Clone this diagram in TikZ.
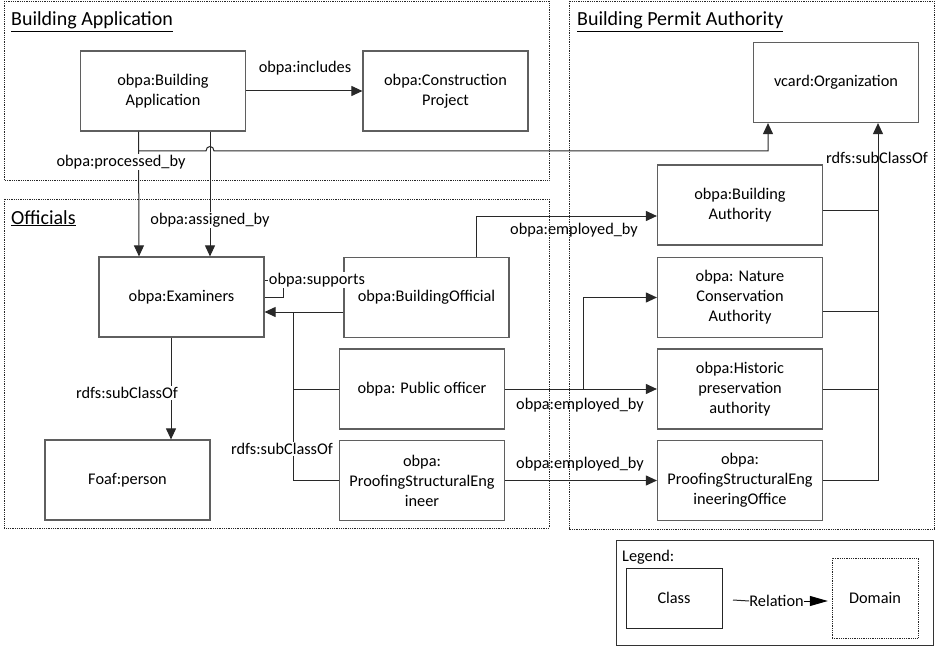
\documentclass[tikz,border=0pt]{standalone}
\usepackage{fontspec}
\setmainfont{Carlito}
\usetikzlibrary{arrows.meta}
\definecolor{boxline}{RGB}{95,95,95}
\definecolor{conn}{RGB}{40,40,40}
\tikzset{
  cls/.style={draw=boxline, line width=1.2pt, minimum width=165pt, minimum height=80pt,
    align=center, inner sep=0pt, font=\fontsize{16.3}{20}\selectfont},
  dom/.style={draw=black!85, line width=0.8pt, densely dotted},
  rel/.style={draw=conn, line width=1pt, -{Triangle[length=11pt,width=10pt]}},
  plain/.style={draw=conn, line width=1pt},
  lbl/.style={font=\fontsize{16.3}{20}\selectfont, inner sep=1pt},
  lblw/.style={lbl, fill=white},
  dtitle/.style={anchor=base west, font=\fontsize{20}{24}\selectfont, inner sep=0pt}
}
\begin{document}
\begin{tikzpicture}[x=1pt,y=-1pt]
\useasboundingbox (0,0) rectangle (939,647);
\fill[white] (0,0) rectangle (939,647);

% domains
\draw[dom] (4,1) rectangle (549,180);
\draw[dom] (4,199) rectangle (549,528);
\draw[dom] (569,1) rectangle (934,529);
\node[dtitle] (t1) at (11,26) {\underline{Building Application}};
\node[dtitle] (t2) at (11,224) {\underline{Officials}};
\node[dtitle] (t3) at (577,26) {\underline{Building Permit Authority}};

% classes
\node[cls] (BA) at (163,91) {obpa:Building\\Application};
\node[cls] (CP) at (445.5,91) {obpa:Construction\\Project};
\node[cls] (VO) at (836,82.5) {vcard:Organization};
\node[cls] (BAu) at (740,205) {obpa:Building\\Authority};
\node[cls] (NCA) at (740,297.5) {obpa: Nature\\Conservation\\Authority};
\node[cls] (HPA) at (740,389) {obpa:Historic\\preservation\\authority};
\node[cls] (PSEO) at (740,480.5) {obpa:\\ProofingStructuralEng\\ineeringOffice};
\node[cls] (EX) at (181.5,297) {obpa:Examiners};
\node[cls] (FP) at (127.5,480) {Foaf:person};
\node[cls] (BO) at (426.5,297.5) {obpa:BuildingOfficial};
\node[cls] (PO) at (422,389) {obpa: Public officer};
\node[cls] (PSE) at (422,480.5) {obpa:\\ProofingStructuralEng\\ineer};

% Building Application relations
\draw[rel] (BA.east) -- (CP.west);
\node[lbl] (lInc) at (305,68) {obpa:includes};

\coordinate (pTop) at ([xshift=-24.5pt]BA.south);
\coordinate (pBot) at ([xshift=-42.5pt]EX.north);
\coordinate (aTop) at ([xshift=47pt]BA.south);
\coordinate (aBot) at ([xshift=28.5pt]EX.north);
\coordinate (vIn) at ([xshift=-68pt]VO.south);
\coordinate (hop1) at (206,151);
\coordinate (hop2) at (214,151);

\draw[rel] (pTop) -- (pBot);
\draw[rel] (aTop) -- (aBot);
\draw[rel] (pTop |- hop1) -- (hop1) .. controls (206,145) and (214,145) .. (hop2) -- (hop2 -| vIn) -- (vIn);
\node[lblw] (lProc) at (121,162) {obpa:processed\_by};
\node[lblw] (lAss) at (210,220) {obpa:assigned\_by};

% Officials relations
\draw[plain] (EX.east) -- ++(19,0) |- ([yshift=17pt]EX.east);
\coordinate (jL) at (293,312);
\draw[rel] ([yshift=-14.5pt]BO.west) -- ([yshift=-15pt]EX.east);
\draw[plain] (PO.west) -| (jL);
\draw[plain] (PSE.west) -| (jL);
\node[lblw] (lSubL) at (282,449) {rdfs:subClassOf};
\node[lblw] (lSup) at (317,280) {obpa:supports};

\coordinate (eOut) at ([xshift=-10.5pt]EX.south);
\draw[rel] (eOut) -- (eOut |- FP.north);
\node[lblw] (lSubE) at (127,393) {rdfs:subClassOf};

% employed_by
\draw[rel] ([xshift=49.5pt]BO.north) |- ([yshift=-11pt]BAu.west);
\node[lbl] (lE1) at (574,230) {obpa:employed\_by};
\draw[rel] (PO.east) -- ++(78,0) |- (NCA.west);
\draw[rel] (PO.east) -- (HPA.west);
\node[lbl] (lE2) at (580,405) {obpa:employed\_by};
\draw[rel] (PSE.east) -- (PSEO.west);
\node[lbl] (lE3) at (580,464) {obpa:employed\_by};

% subClassOf to Organization
\coordinate (vR) at ([xshift=42pt]VO.south);
\draw[rel] (PSEO.east) -| (vR);
\draw[plain] ([yshift=-5pt]BAu.east) -- ([yshift=-5pt]BAu.east -| vR);
\draw[plain] ([yshift=-13.5pt]NCA.east) -- ([yshift=-13.5pt]NCA.east -| vR);
\draw[plain] (HPA.east) -- (HPA.east -| vR);
\node[lbl] (lSubR) at (877,158) {rdfs:subClassOf};

% legend
\draw[draw=black!80, line width=1pt] (616,540) rectangle (933,645);
\node[lbl, anchor=west] (lg) at (621,557) {Legend:};
\node[cls, minimum width=96pt, minimum height=60pt, draw=black!85, line width=1pt] (lgC) at (674,598) {Class};
\node[cls, minimum width=86pt, minimum height=80pt, draw=black!85, line width=0.8pt, densely dotted] (lgD) at (875,598) {Domain};
\node[lbl, inner sep=0pt] (lgR) at (776.5,601) {Relation};
\draw[plain] (733,600) -- (lgR.west);
\draw[draw=black, line width=1pt, -{Triangle[length=18pt,width=10pt]}] (lgR.east) -- ++(24,0);
\end{tikzpicture}
\end{document}
